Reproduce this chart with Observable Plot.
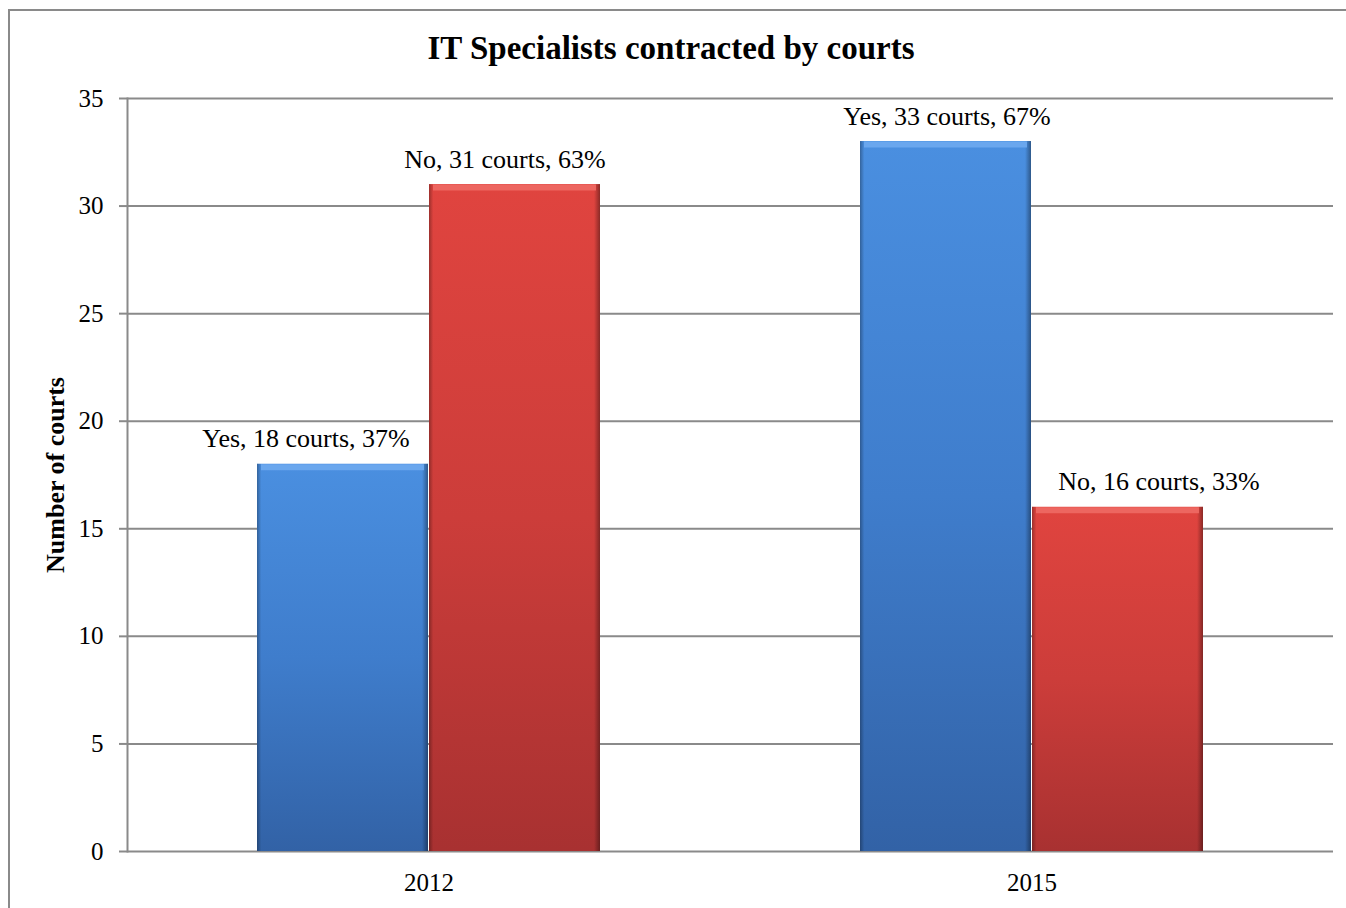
<!DOCTYPE html>
<html>
<head>
<meta charset="utf-8">
<script src="https://cdn.jsdelivr.net/npm/d3@7"></script>
<script src="https://cdn.jsdelivr.net/npm/@observablehq/plot@0.6"></script>
<style>
  html, body { margin: 0; padding: 0; background: #fff; overflow: hidden; width: 1346px; height: 908px; }
  #wrap { position: relative; width: 1346px; height: 908px; font-family: "Liberation Serif", "Times New Roman", serif; }
  #border { position: absolute; left: 8px; top: 9px; width: 1500px; height: 1100px; border-top: 2px solid #8a8a8a; border-left: 2px solid #8a8a8a; pointer-events: none; }
  #title { box-sizing: border-box; height: 70px; padding-top: 32px; line-height: 1; font-size: 33px; font-weight: bold; text-align: center; width: 1342px; }
  #chart svg { display: block; }
</style>
</head>
<body>
<div id="wrap">
  <div id="border"></div>
  <div id="title">IT Specialists contracted by courts</div>
  <div id="chart"></div>
</div>
<script>
const years = ["2012", "2015"];
const seriesNames = ["Yes", "No"];
const yesValues = [18, 33];
const noValues = [31, 16];
const yesPct = [37, 67];
const noPct = [63, 33];
const yTicks = [0, 5, 10, 15, 20, 25, 30, 35];
const yLabel = "Number of courts";

const rows = [];
years.forEach((yr, i) => {
  rows.push({year: yr, series: "Yes", value: yesValues[i], pct: yesPct[i]});
  rows.push({year: yr, series: "No", value: noValues[i], pct: noPct[i]});
});
const yesRows = rows.filter(d => d.series === "Yes");
const noRows = rows.filter(d => d.series === "No");

const labelDx = [-37, -10, 1, 41];
const labelMarks = rows.map((r, i) =>
  Plot.text([r], {
    fx: "year", x: "series", y: "value",
    text: d => `${d.series}, ${d.value} courts, ${d.pct}%`,
    lineAnchor: "bottom", dy: -17, dx: labelDx[i],
    fontSize: 26, fill: "black"
  })
);

const svg = Plot.plot({
  width: 1346,
  height: 838,
  marginLeft: 127,
  marginRight: 13,
  marginTop: 28,
  marginBottom: 57,
  style: {fontFamily: "Liberation Serif, Times New Roman, serif", fontSize: "25px", background: "transparent", color: "black"},
  fx: {domain: years, padding: 0, label: null},
  x: {domain: seriesNames, paddingInner: 0.003, paddingOuter: 0.748, axis: null},
  y: {domain: [0, 35], label: null},
  marks: [
    Plot.ruleY(yTicks, {stroke: "#8a8a8a", strokeWidth: 2, strokeOpacity: 1}),
    Plot.frame({anchor: "left", stroke: "#8a8a8a", strokeWidth: 2, strokeOpacity: 1, facetAnchor: "left"}),
    Plot.axisY({ticks: yTicks, tickSize: 8, tickPadding: 16, fontSize: 25, stroke: "#8a8a8a", strokeWidth: 2, strokeOpacity: 1, label: null}),
    Plot.text([yLabel], {frameAnchor: "left", rotate: -90, dx: -64, lineAnchor: "bottom", textAnchor: "middle", fontSize: 26, fontWeight: "bold", fill: "black", facetAnchor: "left"}),
    Plot.axisFx({anchor: "bottom", tickSize: 0, tickPadding: 22, fontSize: 25, label: null}),
    Plot.barY(yesRows, {fx: "year", x: "series", y: "value", fill: "url(#gYes)"}),
    Plot.barY(noRows, {fx: "year", x: "series", y: "value", fill: "url(#gNo)"}),
    Plot.barY(rows, {fx: "year", x: "series", y: "value", fill: "url(#gEdge)"}),
    Plot.tickY(yesRows, {fx: "year", x: "series", y: "value", stroke: "#6eaaf0", strokeWidth: 6, dy: 3, insetLeft: 4, insetRight: 4, strokeOpacity: 0.9}),
    Plot.tickY(noRows, {fx: "year", x: "series", y: "value", stroke: "#ee6a64", strokeWidth: 6, dy: 3, insetLeft: 4, insetRight: 4, strokeOpacity: 0.9}),
    ...labelMarks
  ]
});

const defs = d3.select(svg).insert("defs", ":first-child");
function grad(id, horizontal, stops) {
  const g = defs.append("linearGradient").attr("id", id)
    .attr("x1", 0).attr("y1", 0).attr("x2", horizontal ? 1 : 0).attr("y2", horizontal ? 0 : 1);
  stops.forEach(([o, c, a]) => g.append("stop").attr("offset", o).attr("stop-color", c).attr("stop-opacity", a));
}
grad("gYes", false, [["0%", "#4a8fe0", 1], ["50%", "#3f7dcc", 1], ["100%", "#3262a6", 1]]);
grad("gNo", false, [["0%", "#e0443f", 1], ["50%", "#cc3d3a", 1], ["100%", "#a83131", 1]]);
grad("gEdge", true, [["0%", "#000", 0.30], ["2.5%", "#000", 0], ["96.5%", "#000", 0], ["100%", "#000", 0.38]]);

document.getElementById("chart").appendChild(svg);
</script>
</body>
</html>
